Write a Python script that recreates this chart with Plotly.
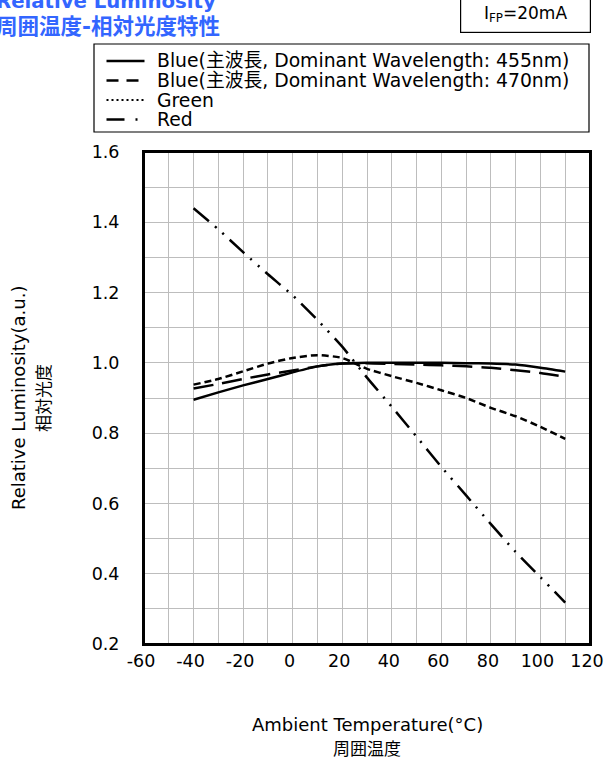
import plotly.graph_objects as go

# ambient temperature (°C)
temps = [-40, -30, -20, -10, 0, 10, 20, 30, 40, 50, 60, 70, 80, 90, 100, 110]

# relative luminosity (a.u.)
blue_455 = [0.895, 0.916, 0.936, 0.954, 0.973, 0.990, 0.998, 1.000, 1.000, 1.000,
            1.000, 0.999, 0.998, 0.995, 0.986, 0.975]
blue_470 = [0.927, 0.940, 0.954, 0.967, 0.978, 0.990, 0.998, 0.999, 0.997, 0.995,
            0.993, 0.990, 0.986, 0.979, 0.971, 0.960]
green = [0.938, 0.954, 0.976, 0.998, 1.014, 1.022, 1.014, 0.983, 0.962, 0.943,
         0.922, 0.900, 0.872, 0.848, 0.818, 0.784]
red = [1.440, 1.380, 1.315, 1.252, 1.192, 1.122, 1.046, 0.958, 0.875, 0.790,
       0.704, 0.623, 0.541, 0.462, 0.390, 0.318]

x_ticks = [-60, -40, -20, 0, 20, 40, 60, 80, 100, 120]
x_tick_labels = ["-60", "-40", "-20", "0", "20", "40", "60", "80", "100", "120"]

names = ["Blue(主波長, Dominant Wavelength: 455nm)",
         "Blue(主波長, Dominant Wavelength: 470nm)",
         "Green",
         "Red"]

FONT = "DejaVu Sans, Noto Sans CJK JP, sans-serif"
TITLE_BLUE = "#3366ff"
GRID = "#bdbdbd"

W, H = 605, 760
L, R, T, B = 144, 15, 152, 116
PW, PH = W - L - R, H - T - B


def px_x(p):
    # pixel -> paper x
    return (p - L) / PW


def px_y(p):
    # pixel -> paper y
    return (H - B - p) / PH


# plot dashes and legend dashes differ a bit in the original
plot_dash = ["solid", "20px,9px", "7px,4px", "20px,8px,2px,8px,2px,8px"]
legend_dash = ["solid", "12px,8px", "2px,3px", "18px,11px,2px,20px"]
series = [blue_455, blue_470, green, red]

fig = go.Figure()

for name, ys, dash in zip(names, series, plot_dash):
    fig.add_trace(go.Scatter(
        x=temps, y=ys, mode="lines", name=name, showlegend=False,
        line=dict(color="black", width=2.5, dash=dash, shape="spline", smoothing=0.6),
    ))

fig.update_layout(
    width=W, height=H, autosize=False,
    margin=dict(l=L, r=R, t=T, b=B, autoexpand=False),
    plot_bgcolor="white", paper_bgcolor="white",
    font=dict(family=FONT, size=17, color="black"),
    showlegend=False,
)

fig.update_xaxes(
    range=[-60, 120], tickvals=x_ticks, ticktext=x_tick_labels,
    showgrid=True, gridcolor=GRID, gridwidth=1.2,
    minor=dict(dtick=10, showgrid=True, gridcolor=GRID, gridwidth=1.2),
    showline=True, linecolor="black", linewidth=2, mirror=True,
    ticks="", zeroline=False, ticklabelstandoff=0, ticklabelshift=-3,
    automargin=False, ticklabeloverflow="allow", tickfont=dict(size=17.5),
)
fig.update_yaxes(
    range=[0.2, 1.6], dtick=0.2, tick0=0.2, tickformat=".1f",
    showgrid=True, gridcolor=GRID, gridwidth=1.2,
    minor=dict(dtick=0.1, showgrid=True, gridcolor=GRID, gridwidth=1.2),
    showline=True, linecolor="black", linewidth=2, mirror=True,
    ticks="", zeroline=False, ticklabelstandoff=19, automargin=False,
    ticklabeloverflow="allow", tickfont=dict(size=17.5),
)

# plot frame, drawn again on top so the right edge is surely there
fig.add_shape(type="rect", xref="paper", yref="paper", x0=0, x1=1, y0=0, y1=1,
              line=dict(color="black", width=2), fillcolor="rgba(0,0,0,0)")

# legend, drawn by hand (frame, line samples, labels)
fig.add_shape(type="rect", xref="paper", yref="paper",
              x0=px_x(94), x1=px_x(589), y0=px_y(132), y1=px_y(44),
              line=dict(color="black", width=1.2), fillcolor="rgba(0,0,0,0)")
row_y = [61, 80.5, 100, 119.5]
for name, dash, ry in zip(names, legend_dash, row_y):
    fig.add_shape(type="line", xref="paper", yref="paper",
                  x0=px_x(106.5), x1=px_x(144.5), y0=px_y(ry), y1=px_y(ry),
                  line=dict(color="black", width=2.5 if dash != "2px,3px" else 2, dash=dash))
    fig.add_annotation(text=name, xref="paper", yref="paper",
                       x=px_x(155), y=px_y(ry), xanchor="left", yanchor="middle",
                       showarrow=False, font=dict(size=18.8))

# header titles
fig.add_annotation(text="<b>Relative Luminosity</b>", xref="paper", yref="paper",
                   x=px_x(-6), y=px_y(1), xanchor="left", yanchor="middle",
                   showarrow=False, font=dict(size=19.7, color=TITLE_BLUE))
fig.add_annotation(text="<b>周囲温度-相対光度特性</b>", xref="paper", yref="paper",
                   x=px_x(-6), y=px_y(26), xanchor="left", yanchor="middle",
                   showarrow=False, font=dict(size=21.5, color=TITLE_BLUE))

# condition box
fig.add_annotation(text="I<sub>FP</sub>=20mA", xref="paper", yref="paper",
                   x=px_x(591), y=px_y(33), xanchor="right", yanchor="bottom",
                   width=129, height=36, borderpad=0, borderwidth=1.2,
                   bordercolor="black", showarrow=False, font=dict(size=17))

# axis titles
fig.add_annotation(text="Ambient Temperature(°C)", xref="paper", yref="paper",
                   x=0.5, y=px_y(724), xanchor="center", yanchor="middle",
                   showarrow=False, font=dict(size=18))
fig.add_annotation(text="周囲温度", xref="paper", yref="paper",
                   x=0.5, y=px_y(749), xanchor="center", yanchor="middle",
                   showarrow=False, font=dict(size=17))
fig.add_annotation(text="Relative Luminosity(a.u.)", xref="paper", yref="paper",
                   x=px_x(18), y=0.5, xanchor="center", yanchor="middle",
                   textangle=-90, showarrow=False, font=dict(size=18))
fig.add_annotation(text="相対光度", xref="paper", yref="paper",
                   x=px_x(44), y=0.5, xanchor="center", yanchor="middle",
                   textangle=-90, showarrow=False, font=dict(size=17))

# page body has an 8px default margin; the 605x760 figure should fill the window
fig.write_html(
    "out.html",
    config={"displayModeBar": False, "responsive": False},
    post_script=(
        "document.body.style.margin = '0';"
        "document.body.style.overflow = 'hidden';"
        "document.documentElement.style.overflow = 'hidden';"
    ),
)
